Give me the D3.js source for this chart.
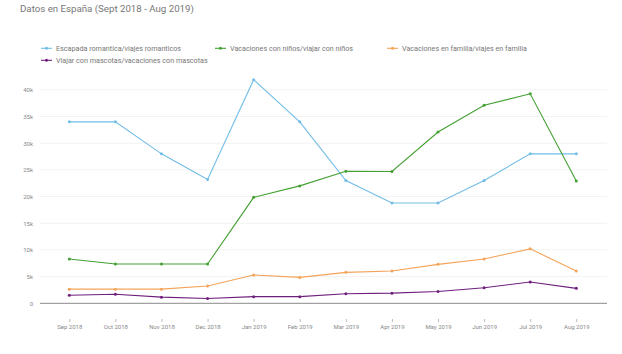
<html>
<head>
  <meta charset="utf-8" />
  <script src="https://cdnjs.cloudflare.com/ajax/libs/d3/7.8.5/d3.min.js"></script>
  <style>
    body { margin: 0; background: #fff; }
    svg { font-family: Roboto, sans-serif; }
    .tick text { fill: #888; }
    .domain { stroke: none; }
  </style>
</head>
<body>
  <svg width="622" height="354"></svg>
  <script>
  var months = ["Sep 2018", "Oct 2018", "Nov 2018", "Dec 2018", "Jan 2019", "Feb 2019",
                "Mar 2019", "Apr 2019", "May 2019", "Jun 2019", "Jul 2019", "Aug 2019"];
  var escapada = [34000, 34000, 28000, 23200, 41900, 34000, 23000, 18800, 18800, 23000, 28000, 28000];
  var ninos = [8300, 7350, 7350, 7350, 19850, 22000, 24750, 24700, 32100, 37100, 39250, 22900];
  var familia = [2650, 2650, 2650, 3250, 5300, 4850, 5800, 6050, 7300, 8300, 10200, 6050];
  var mascotas = [1500, 1700, 1150, 900, 1250, 1250, 1800, 1900, 2200, 2900, 4000, 2800];
  var yTicks = [0, 5000, 10000, 15000, 20000, 25000, 30000, 35000, 40000];

  var series = [
    { name: "Escapada romantica/viajes romanticos", values: escapada, color: "#72bde6" },
    { name: "Vacaciones con niños/viajar con niños", values: ninos, color: "#43a032" },
    { name: "Vacaciones en familia/viajes en familia", values: familia, color: "#f4a358" },
    { name: "Viajar con mascotas/vacaciones con mascotas", values: mascotas, color: "#6e1f7c" }
  ];

  var svg = d3.select("svg");
  var x = d3.scalePoint().domain(months).range([69.3, 576.3]);
  var y = d3.scaleLinear().domain([0, 40000]).range([303.3, 89.8]);

  svg.append("text")
    .attr("x", 20).attr("y", 12)
    .attr("fill", "#777").attr("font-size", "9.7px")
    .text("Datos en España (Sept 2018 - Aug 2019)");

  // grid
  svg.append("g").selectAll("line").data(yTicks.slice(1)).join("line")
    .attr("x1", 40).attr("x2", 607)
    .attr("y1", d => y(d)).attr("y2", d => y(d))
    .attr("stroke", "#f2f2f2").attr("stroke-width", 1);

  var yAxis = svg.append("g").attr("transform", "translate(33,0)")
    .call(d3.axisLeft(y).tickValues(yTicks).tickSize(0).tickPadding(0)
      .tickFormat(d => d === 0 ? "0" : (d / 1000) + "k"));
  yAxis.selectAll("text").attr("font-size", "6px").attr("font-family", "Roboto, sans-serif");

  var xAxis = svg.append("g").attr("transform", "translate(0,319)")
    .call(d3.axisBottom(x).tickSize(3).tickPadding(3));
  xAxis.selectAll("line").attr("stroke", "#bbb");
  xAxis.selectAll("text").attr("font-size", "6px").attr("font-family", "Roboto, sans-serif");

  // baseline
  svg.append("line")
    .attr("x1", 40).attr("x2", 607)
    .attr("y1", y(0)).attr("y2", y(0))
    .attr("stroke", "#8a8a8a").attr("stroke-width", 1);

  var line = d3.line().x((d, i) => x(months[i])).y(d => y(d));

  series.forEach(s => {
    svg.append("path")
      .attr("d", line(s.values))
      .attr("fill", "none")
      .attr("stroke", s.color)
      .attr("stroke-width", 1.1);
    svg.append("g").selectAll("circle").data(s.values).join("circle")
      .attr("cx", (d, i) => x(months[i]))
      .attr("cy", d => y(d))
      .attr("r", 1.5)
      .attr("fill", s.color);
  });

  // legend
  var legendPos = [[41, 48.3], [215, 48.3], [387, 48.3], [41, 60.3]];
  series.forEach((s, i) => {
    var g = svg.append("g").attr("transform", "translate(" + legendPos[i][0] + "," + legendPos[i][1] + ")");
    g.append("line").attr("x1", 0).attr("x2", 11).attr("stroke", s.color).attr("stroke-width", 1.1);
    g.append("circle").attr("cx", 5.5).attr("r", 1.5).attr("fill", s.color);
    g.append("text").attr("x", 15).attr("dy", "0.35em")
      .attr("font-size", "7.2px").attr("fill", "#777").text(s.name);
  });
  </script>
</body>
</html>
